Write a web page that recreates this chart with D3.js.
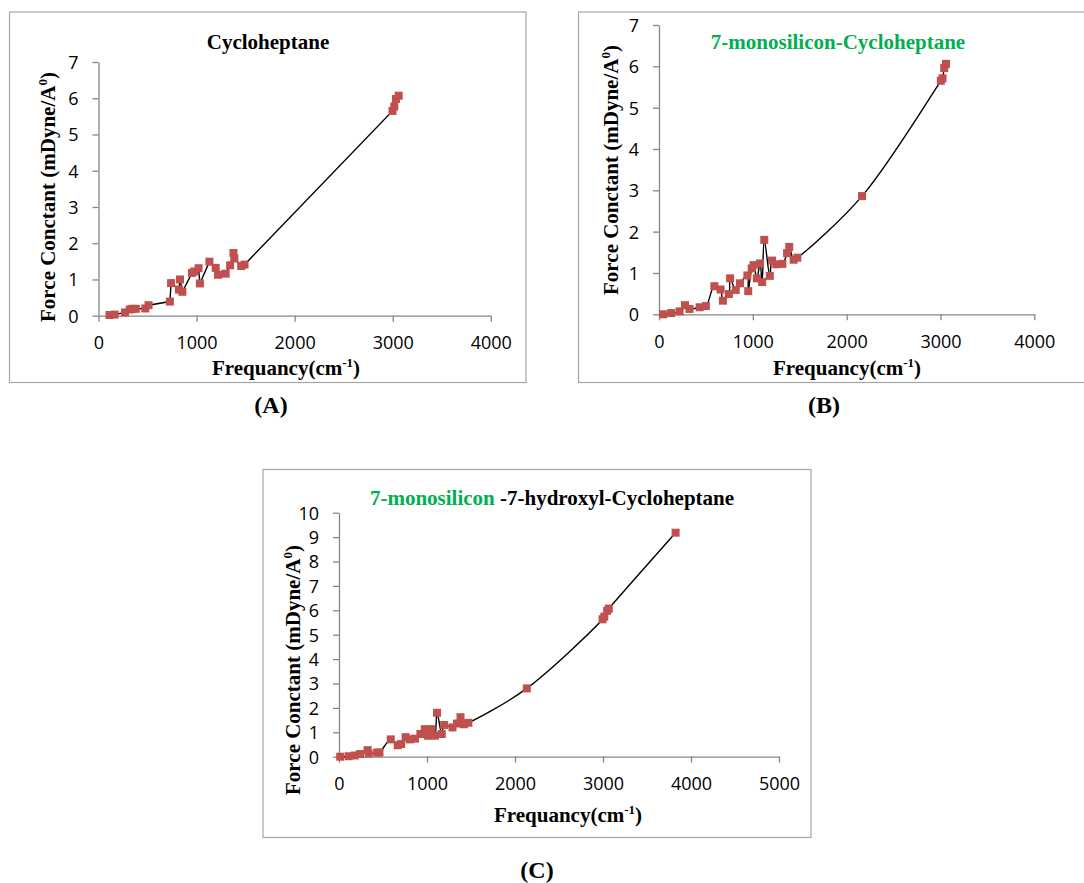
<!DOCTYPE html>
<html><head><meta charset="utf-8">
<script src="https://cdn.jsdelivr.net/npm/d3@7"></script>
<style>body{margin:0;background:#fff}</style></head>
<body>
<svg id="c" width="1084" height="883"></svg>
<script>
// ---- data ----
const freqA=[112,165,270,318,345,380,477,510,728,740,820,831,855,953,977,1020,1034,1131,1195,1219,1297,1342,1376,1385,1455,1489,2998,3016,3033,3061];
const forceA=[0.02,0.03,0.09,0.17,0.19,0.19,0.2,0.29,0.39,0.9,0.72,1.0,0.66,1.18,1.22,1.31,0.89,1.49,1.32,1.13,1.16,1.39,1.73,1.58,1.37,1.41,5.65,5.77,5.98,6.07];

const freqB=[45,130,219,277,325,433,500,590,656,681,745,758,818,863,942,951,988,1008,1043,1077,1099,1122,1181,1205,1250,1315,1365,1388,1435,1475,2164,3004,3022,3040,3059];
const forceB=[0,0.03,0.07,0.22,0.13,0.17,0.2,0.68,0.6,0.33,0.49,0.87,0.59,0.75,0.94,0.56,1.11,1.19,0.87,1.23,0.78,1.8,0.93,1.3,1.21,1.22,1.48,1.63,1.32,1.37,2.86,5.65,5.71,5.96,6.06];

const freqC=[14,110,180,240,325,337,433,460,588,668,707,757,805,864,925,975,1012,1051,1090,1114,1168,1195,1290,1341,1381,1420,1470,2134,2995,3015,3047,3066,3825];
const forceC=[0,0.02,0.05,0.11,0.27,0.13,0.17,0.17,0.71,0.47,0.52,0.8,0.71,0.74,0.93,1.13,0.86,1.13,0.86,1.8,0.93,1.3,1.2,1.36,1.62,1.33,1.39,2.8,5.63,5.74,5.98,6.07,9.18];

const xTicksAB=[0,1000,2000,3000,4000];
const xTicksC=[0,1000,2000,3000,4000,5000];
const yTicksAB=[0,1,2,3,4,5,6,7];
const yTicksC=[0,1,2,3,4,5,6,7,8,9,10];

const titleA=[["Cycloheptane","#000"]];
const titleB=[["7-monosilicon-Cycloheptane","#00B050"]];
const titleC=[["7-monosilicon","#00B050"],[" -7-hydroxyl-Cycloheptane","#000"]];
const panelLabels=["(A)","(B)","(C)"];

// ---- drawing ----
const svg=d3.select("#c");
const serif="'Liberation Serif','Times New Roman',serif";
const sans="'Open Sans','Noto Sans',sans-serif";
const gray="#868686";
const red="#C0504D";

function panel(o){
  const g=svg.append("g");
  g.append("rect").attr("x",o.frame[0]).attr("y",o.frame[1])
    .attr("width",o.frame[2]-o.frame[0]).attr("height",o.frame[3]-o.frame[1])
    .attr("fill","#fff").attr("stroke","#a6a6a6").attr("stroke-width",1.2);

  const x=d3.scaleLinear().domain([0,d3.max(o.xTicks)]).range([o.x0,o.x1]);
  const y=d3.scaleLinear().domain([0,d3.max(o.yTicks)]).range([o.y0,o.y1]);

  const xa=g.append("g").attr("transform",`translate(0,${o.y0})`)
    .call(d3.axisBottom(x).tickValues(o.xTicks).tickSize(6).tickSizeOuter(0).tickFormat(d3.format("d")));
  xa.selectAll("text").attr("y",27).attr("dy","0.36em");
  const ya=g.append("g").attr("transform",`translate(${o.x0},0)`)
    .call(d3.axisLeft(y).tickValues(o.yTicks).tickSize(6).tickSizeOuter(0).tickFormat(d3.format("d")));
  ya.selectAll("text").attr("x",-20).attr("dy","0.36em");
  [xa,ya].forEach(a=>{
    a.select(".domain").attr("stroke",gray).attr("stroke-width",1.3);
    a.selectAll(".tick line").attr("stroke",gray).attr("stroke-width",1.3);
    a.selectAll("text").attr("fill","#000").style("font-family",sans).style("font-size","18px");
  });

  const pts=o.freq.map((f,i)=>[f,o.force[i]]);
  const line=d3.line().x(d=>x(d[0])).y(d=>y(d[1])).curve(o.curve);
  g.append("path").datum(pts).attr("d",line).attr("fill","none")
    .attr("stroke","#000").attr("stroke-width",1.4);
  const s=8;
  g.selectAll("rect.m").data(pts).join("rect").attr("class","m")
    .attr("x",d=>x(d[0])-s/2).attr("y",d=>y(d[1])-s/2)
    .attr("width",s).attr("height",s).attr("fill",red);

  // title
  const t=g.append("text").attr("x",o.titlePos[0]).attr("y",o.titlePos[1])
    .attr("text-anchor","middle").style("font-family",serif)
    .style("font-weight","bold").style("font-size","21px");
  o.title.forEach(([txt,col])=>t.append("tspan").attr("fill",col).text(txt));

  // x title
  const xt=g.append("text").attr("x",o.xTitle[0]).attr("y",o.xTitle[1])
    .attr("text-anchor","middle").style("font-family",serif)
    .style("font-weight","bold").style("font-size","21px");
  xt.append("tspan").text("Frequancy(cm");
  xt.append("tspan").attr("dy","-8").style("font-size","13px").text("-1");
  xt.append("tspan").attr("dy","8").text(")");

  // y title
  const yt=g.append("text")
    .attr("transform",`translate(${o.yTitle[0]},${o.yTitle[1]}) rotate(-90)`)
    .attr("text-anchor","middle").attr("dy","0.35em").style("font-family",serif)
    .style("font-weight","bold").style("font-size","21px");
  yt.append("tspan").text("Force Conctant (mDyne/A");
  yt.append("tspan").attr("dy","-8").style("font-size","13px").text("0");
  yt.append("tspan").attr("dy","8").text(")");

  // panel label
  svg.append("text").attr("x",o.label[0]).attr("y",o.label[1])
    .attr("text-anchor","middle").style("font-family",serif)
    .style("font-weight","bold").style("font-size","24px").text(o.labelText);
}

panel({frame:[9.5,12,526,382.5],x0:98.5,x1:490.8,y0:315.7,y1:62,
  xTicks:xTicksAB,yTicks:yTicksAB,freq:freqA,force:forceA,curve:d3.curveLinear,
  title:titleA,titlePos:[268,49],xTitle:[286,375],yTitle:[48,197],
  label:[271,413],labelText:panelLabels[0]});

panel({frame:[578.5,12,1092,382.5],x0:659,x1:1034.3,y0:314.3,y1:25,
  xTicks:xTicksAB,yTicks:yTicksAB,freq:freqB,force:forceB,curve:d3.curveCatmullRom.alpha(0.5),
  title:titleB,titlePos:[838,49],xTitle:[847,375],yTitle:[611,170],
  label:[824,413],labelText:panelLabels[1]});

panel({frame:[263,469.5,811,837.5],x0:339,x1:779,y0:756.7,y1:512.7,
  xTicks:xTicksC,yTicks:yTicksC,freq:freqC,force:forceC,curve:d3.curveCatmullRom.alpha(0.5),
  title:titleC,titlePos:[552,505],xTitle:[568,822],yTitle:[293,670],
  label:[537,878],labelText:panelLabels[2]});
</script>
</body></html>
